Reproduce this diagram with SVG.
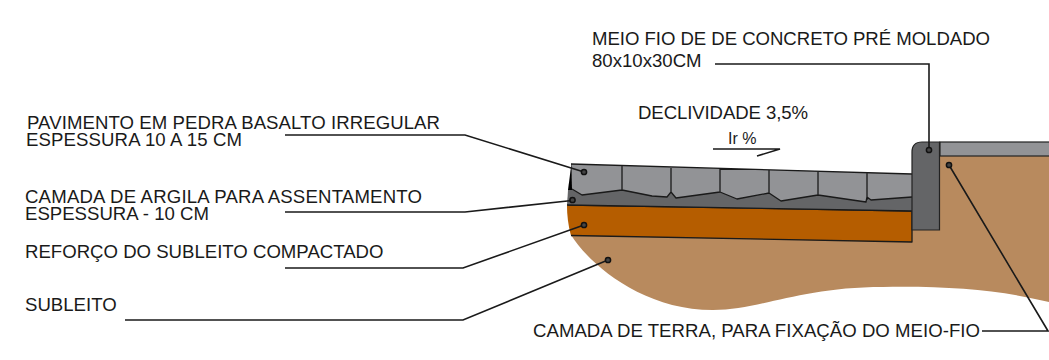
<svg xmlns="http://www.w3.org/2000/svg" width="1049" height="360" viewBox="0 0 1049 360">
<style>
text{font-family:"Liberation Sans",Arial,sans-serif;font-size:18.6px;fill:#1a1a1a}
.l{fill:none;stroke:#1a1a1a;stroke-width:1.6}
.o{fill:none;stroke:#1a1a1a;stroke-width:1.3;stroke-linejoin:round}
.d{fill:#444;stroke:#111;stroke-width:1.5}
</style>
<defs><circle id="dot" r="2.6" class="d"/></defs>
<g id="subleito"><path d="M567 205L912 211L912 230L940 230L940 156L1049 156L1049 302C1000 290 950 286 883 287C800 287 760 310 713 310C640 310 588 262 571 235Z" fill="#b88a5e"/></g>
<g id="reforco"><path d="M567 205L912 211L912 242L571 235.500C568 225 567 215 567 205Z" fill="#b55d00"/><path d="M571 235.500L912 242L912 211M568 205L912 211" class="o"/></g>
<g id="argila"><path d="M568 190L571 187L912 190L912 211L567 205Z" fill="#646567"/><path d="M567 205L912 211" class="o"/></g>
<g id="pavimento"><path d="M571 164L912 174L912 197L871 200L867 197L866 202L818 195L781 201L769 193L737 199L720 192L676 198L671 192L667 197L652 196L622 190L582 195L572 189Z" fill="#929396"/>
<path d="M571 164L912 174M572 189L582 195L622 190L652 196L667 197L671 192L676 198L720 192L737 199L769 193L781 201L818 195L866 202L867 197L871 200L912 197M622 166V190M671 167V192M720 168V192M769 170V193M818 171V195M867 172V200" class="o"/>
<path d="M571.500 163L572 190L568 190Z" fill="#000"/></g>
<g id="meio-fio"><path d="M912 230V152Q912 142 922 142H939.500V230Z" fill="#646567" stroke="#222" stroke-width="1.2"/></g>
<g id="camada-cinza"><rect x="940" y="142" width="110" height="14" fill="#929396" stroke="#222" stroke-width="1.2"/></g>
<g id="connectors">
<path class="l" d="M285 135H465L584 172"/><use href="#dot" x="584" y="172"/>
<path class="l" d="M285 212H465L572 200.500"/><use href="#dot" x="572.500" y="200"/>
<path class="l" d="M285 268H463L584 225"/><use href="#dot" x="584" y="225"/>
<path class="l" d="M125 320H463L608 260"/><use href="#dot" x="608" y="260"/>
<path class="l" d="M715 64H929V150"/><use href="#dot" x="929" y="150"/>
<path class="l" d="M982 331H1048L949 165"/><use href="#dot" x="949" y="165"/>
<path class="l" d="M713 149H780L757 156"/>
</g>
<g id="labels">
<text x="27" y="129" textLength="413">PAVIMENTO EM PEDRA BASALTO IRREGULAR</text>
<text x="26" y="146" textLength="216">ESPESSURA 10 A 15 CM</text>
<text x="25" y="203" textLength="397">CAMADA DE ARGILA PARA ASSENTAMENTO</text>
<text x="25" y="220">ESPESSURA - 10 CM</text>
<text x="25" y="258">REFORÇO DO SUBLEITO COMPACTADO</text>
<text x="25" y="311">SUBLEITO</text>
<text x="592" y="45" textLength="398">MEIO FIO DE DE CONCRETO PRÉ MOLDADO</text>
<text x="592" y="67">80x10x30CM</text>
<text x="638" y="119" textLength="170">DECLIVIDADE 3,5%</text>
<text x="728" y="144" style="font-size:16px">Ir %</text>
<text x="533" y="337" textLength="447">CAMADA DE TERRA, PARA FIXAÇÃO DO MEIO-FIO</text>
</g>
</svg>
